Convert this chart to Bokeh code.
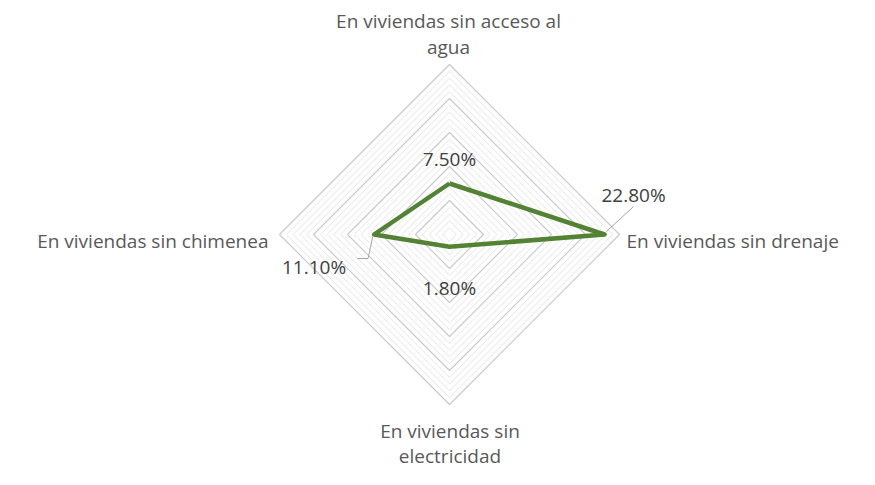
import numpy as np
from bokeh.plotting import figure
from bokeh.models import Range1d
from bokeh.core.properties import value
from bokeh.embed import file_html
from bokeh.resources import INLINE

# ---- data ----
categories = ["En viviendas sin acceso al\nagua", "En viviendas sin drenaje",
              "En viviendas sin\nelectricidad", "En viviendas sin chimenea"]
values = [7.5, 22.8, 1.8, 11.1]
value_labels = ["7.50%", "22.80%", "1.80%", "11.10%"]
axis_max = 25
major_step = 5
minor_step = 1

# ---- geometry ----
W, H = 859, 469
PX = 6.8                      # pixels per unit
cx_px, cy_px = 449.0, 234.0   # centre in figure pixels
FONT = "Open Sans"
FS = "19px"
CAT_COLOR = "#595959"
LBL_COLOR = "#404040"

p = figure(width=W, height=H, output_backend="svg", toolbar_location=None,
           x_axis_type=None, y_axis_type=None, min_border=0,
           x_range=Range1d(-cx_px / PX, (W - cx_px) / PX),
           y_range=Range1d(-(H - cy_px) / PX, cy_px / PX))
p.outline_line_color = None
p.grid.visible = False
p.background_fill_color = "white"

n = len(values)
theta = np.arange(n) * 2 * np.pi / n
sx, sy = np.sin(theta), np.cos(theta)

# grid rings
minor_x, minor_y, major_x, major_y = [], [], [], []
for r in np.arange(minor_step, axis_max + 0.001, minor_step):
    xs = list(r * sx) + [r * sx[0]]
    ys = list(r * sy) + [r * sy[0]]
    if abs(r / major_step - round(r / major_step)) < 1e-6:
        major_x.append(xs); major_y.append(ys)
    else:
        minor_x.append(xs); minor_y.append(ys)
p.multi_line(minor_x, minor_y, line_color="#e4e4e4", line_width=1)
p.multi_line(major_x, major_y, line_color="#c8c8c8", line_width=1.1)

# data polygon
vx = np.array(values) * sx
vy = np.array(values) * sy
p.line(list(vx) + [vx[0]], list(vy) + [vy[0]], line_color="#548235",
       line_width=4.5, line_join="round")

# leader lines (pixel offsets from the data points)
u = 1.0 / PX
p.line([vx[1] + 1.6 * u, vx[1] + 29 * u], [vy[1] + 2.7 * u, vy[1] + 28 * u],
       line_color="#a6a6a6", line_width=1)
p.line([vx[3] - 1 * u, vx[3] - 6 * u, vx[3] - 17 * u],
       [vy[3] - 1 * u, vy[3] - 24 * u, vy[3] - 24 * u],
       line_color="#a6a6a6", line_width=1)

# data labels
dl_off = [(0, -25), (29, -39.5), (0, 41), (-60, 32.5)]
for i in range(n):
    p.text(x=[vx[i]], y=[vy[i]], text=[value_labels[i]],
           x_offset=dl_off[i][0], y_offset=dl_off[i][1],
           text_align="center", text_baseline="alphabetic",
           text_font=value(FONT), text_font_size=FS, text_color=LBL_COLOR)

# category labels
R = axis_max
cat_specs = [  # (align, x_off px, first baseline y_off px, line spacing)
    ("center", -1, -214, 26),
    ("left", 7, 6, 26),
    ("center", 0.5, 196, 25),
    ("right", -11, 6, 26),
]
for i in range(n):
    align, xo, yo, lh = cat_specs[i]
    lines = categories[i].split("\n")
    for j, ln in enumerate(lines):
        bx = R * sx[i] if i in (1, 3) else 0
        p.text(x=[bx], y=[0], text=[ln], x_offset=xo, y_offset=yo + j * lh,
               text_align=align, text_baseline="alphabetic",
               text_font=value(FONT), text_font_size=FS, text_color=CAT_COLOR)

open("out.html", "w").write(file_html(p, INLINE))
